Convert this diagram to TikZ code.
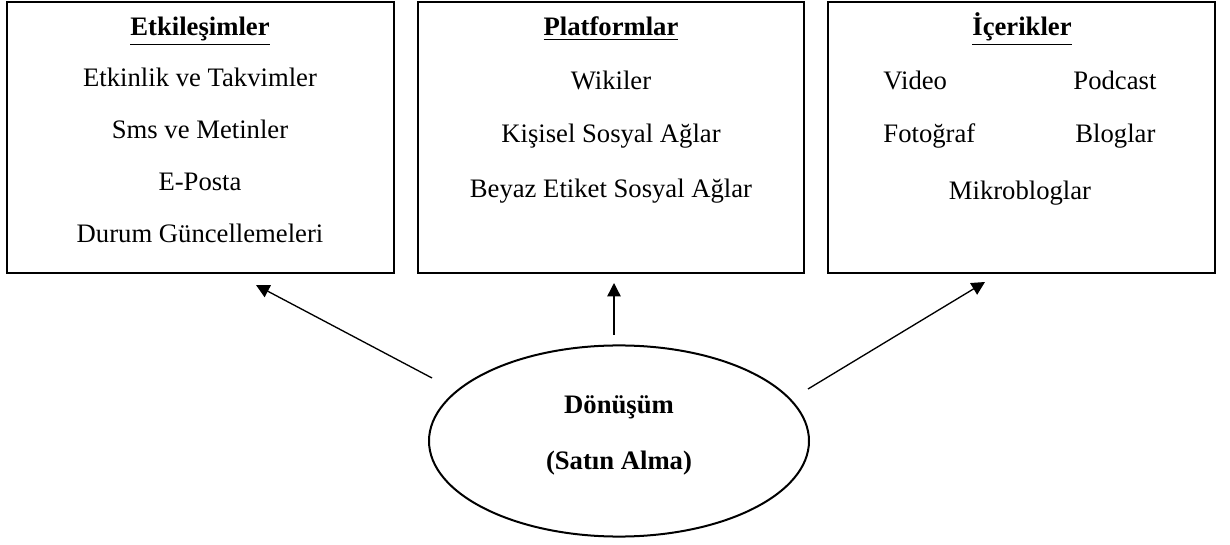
\documentclass[tikz,border=0pt]{standalone}
\usepackage{fontspec}
\setmainfont{Liberation Serif}
\usetikzlibrary{shapes.geometric,arrows.meta}
\tikzset{
  kutu/.style={draw, line width=0.9pt, inner sep=0pt, minimum width=174pt, minimum height=122pt},
  yazi/.style={anchor=base, inner sep=0pt, font=\fontsize{12pt}{14pt}\selectfont},
  ok/.style={-{Triangle[length=6pt,width=6pt]}, line width=0.6pt}
}
\begin{document}
\begin{tikzpicture}[x=0.45pt,y=-0.45pt]
\useasboundingbox (0,0) rectangle (1230,545);
% kutular
\node[kutu] (etk) at (200.5,137.5) {};
\node[kutu] (plat) at (611,137.5) {};
\node[kutu] (ice) at (1021.5,137.5) {};
\node[draw, ellipse, line width=0.9pt, minimum width=171pt, minimum height=86pt] (don) at (619,441) {};
% Etkilesimler
\node[yazi] (etkb) at (200,36) {\textbf{\underline{Etkileşimler}}};
\node[yazi] (etk1) at (200,87) {Etkinlik ve Takvimler};
\node[yazi] (etk2) at (200,139) {Sms ve Metinler};
\node[yazi] (etk3) at (200,191) {E-Posta};
\node[yazi] (etk4) at (200,243) {Durum Güncellemeleri};
% Platformlar
\node[yazi] (platb) at (611,36) {\textbf{\underline{Platformlar}}};
\node[yazi] (plat1) at (611,90) {Wikiler};
\node[yazi] (plat2) at (611,143) {Kişisel Sosyal Ağlar};
\node[yazi] (plat3) at (611,198) {Beyaz Etiket Sosyal Ağlar};
% Icerikler
\node[yazi] (iceb) at (1022,36) {\textbf{\underline{İçerikler}}};
\node[yazi, anchor=base west] (ice1) at (883,90) {Video};
\node[yazi, anchor=base west] (ice2) at (1073,90) {Podcast};
\node[yazi, anchor=base west] (ice3) at (883,143) {Fotoğraf};
\node[yazi, anchor=base west] (ice4) at (1075,143) {Bloglar};
\node[yazi] (ice5) at (1020,200) {Mikrobloglar};
% Donusum
\node[yazi] (don1) at (619,413) {\textbf{Dönüşüm}};
\node[yazi] (don2) at (619,469) {\textbf{(Satın Alma)}};
% oklar
\coordinate (s1) at (432,378);
\coordinate (u1) at (256,285);
\coordinate (s2) at (614,335);
\coordinate (u2) at (614,283);
\coordinate (s3) at (808,389);
\coordinate (u3) at (985,282);
\draw[ok] (s1) -- (u1);
\draw[ok] (s2) -- (u2);
\draw[ok] (s3) -- (u3);
\end{tikzpicture}
\end{document}
